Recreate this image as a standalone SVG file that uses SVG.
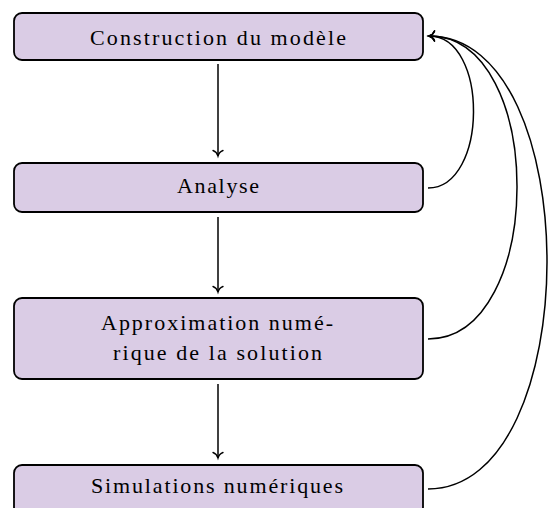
<svg xmlns="http://www.w3.org/2000/svg" width="549" height="508" viewBox="0 0 549 508">
<style>
.box{fill:#dacce5;stroke:#000;stroke-width:1.8}
.lbl{font-family:"Liberation Serif","DejaVu Serif",serif;font-size:22px;fill:#000;text-anchor:middle}
.edge{fill:none;stroke:#000;stroke-width:1.5}
</style>
<defs>
<marker id="to" markerUnits="userSpaceOnUse" markerWidth="14" markerHeight="14" viewBox="-8 -7 10 14" refX="0" refY="0" orient="auto">
<path d="M-5.5,-5 C-4.5,-2.2 -2,-0.6 0,0 C-2,0.6 -4.5,2.2 -5.5,5" fill="none" stroke="#000" stroke-width="1.4" stroke-linecap="round"/>
</marker>
</defs>
<g id="connectors">
<path class="edge" d="M218,64 L218,156" marker-end="url(#to)"/>
<path class="edge" d="M218,217 L218,292" marker-end="url(#to)"/>
<path class="edge" d="M218,384 L218,458" marker-end="url(#to)"/>
<path class="edge" d="M428,188 C488,188 489,36 429,36" marker-end="url(#to)"/>
<path class="edge" d="M428,339 C546,339 547,36 429,36" marker-end="url(#to)"/>
<path class="edge" d="M428,489 C586,489 587,36 429,36" marker-end="url(#to)"/>
</g>
<g id="n1">
<rect class="box" x="14" y="13" width="409" height="47" rx="8"/>
<text class="lbl" x="218" y="45" textLength="256" lengthAdjust="spacing">Construction du modèle</text>
</g>
<g id="n2">
<rect class="box" x="14" y="163" width="409" height="49" rx="8"/>
<text class="lbl" x="218" y="193" textLength="82" lengthAdjust="spacing">Analyse</text>
</g>
<g id="n3">
<rect class="box" x="14" y="298" width="409" height="81" rx="8"/>
<text class="lbl" x="217" y="330" textLength="232" lengthAdjust="spacing">Approximation numé-</text>
<text class="lbl" x="217.5" y="360" textLength="209" lengthAdjust="spacing">rique de la solution</text>
</g>
<g id="n4">
<rect class="box" x="14" y="465" width="409" height="50" rx="8"/>
<text class="lbl" x="217" y="493" textLength="252" lengthAdjust="spacing">Simulations numériques</text>
</g>
</svg>
